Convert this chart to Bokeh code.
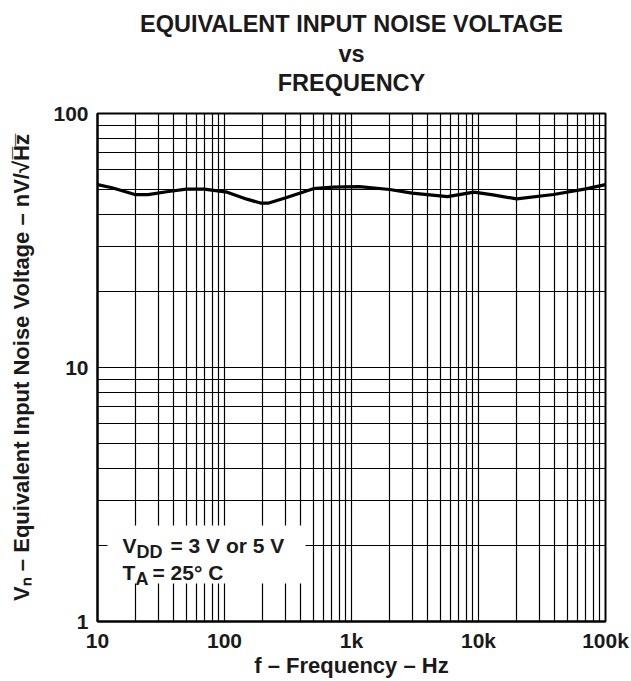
from bokeh.plotting import figure
from bokeh.models import FixedTicker, Label, BoxAnnotation, Range1d, Title
from bokeh.embed import file_html
from bokeh.resources import INLINE

# ---- data ----
freq_hz = [10, 13, 20, 25, 35, 50, 69, 105, 150, 192, 223, 300, 500, 720,
           1150, 2000, 3000, 5700, 9200, 13000, 20000, 39000, 70000, 100000]
noise_nv = [52.5, 51.0, 47.9, 47.9, 49.2, 50.4, 50.4, 49.0, 46.0, 44.4, 44.4,
            46.5, 50.6, 51.3, 51.5, 50.2, 48.6, 47.1, 49.0, 47.8, 46.1, 48.0,
            50.5, 52.5]

x_major = [10, 100, 1000, 10000, 100000]
x_labels = ["10", "100", "1k", "10k", "100k"]
y_major = [1, 10, 100]
y_labels = ["1", "10", "100"]

title_lines = ["EQUIVALENT INPUT NOISE VOLTAGE", "vs", "FREQUENCY"]
x_title = "f \u2013 Frequency \u2013 Hz"
y_title = "V\u2099 \u2013 Equivalent Input Noise Voltage \u2013 nV/\u221aH\u0305z\u0305"

FONT = "Liberation Sans"
INK = "#1a1a1a"

x_minor = [m * d for d in x_major[:-1] for m in range(2, 10)]
y_minor = [m * d for d in y_major[:-1] for m in range(2, 10)]

p = figure(width=631, height=681, x_axis_type="log", y_axis_type="log",
           x_range=Range1d(10, 100000), y_range=Range1d(1, 100),
           output_backend="svg", toolbar_location=None,
           min_border_left=97, min_border_right=26,
           min_border_top=113, min_border_bottom=60)

p.background_fill_color = "white"
p.border_fill_color = "white"
p.outline_line_color = "black"
p.outline_line_width = 2

p.xaxis.ticker = FixedTicker(ticks=x_major, minor_ticks=x_minor)
p.yaxis.ticker = FixedTicker(ticks=y_major, minor_ticks=y_minor)
p.xaxis.major_label_overrides = {v: s for v, s in zip(x_major, x_labels)}
p.yaxis.major_label_overrides = {v: s for v, s in zip(y_major, y_labels)}

for ax in (p.xaxis, p.yaxis):
    ax.major_tick_in = 0
    ax.major_tick_out = 0
    ax.minor_tick_in = 0
    ax.minor_tick_out = 0
    ax.axis_line_color = "black"
    ax.axis_line_width = 2
    ax.major_label_text_font = FONT
    ax.major_label_text_font_style = "bold"
    ax.major_label_text_font_size = "21px"
    ax.major_label_text_color = INK
    ax.major_label_text_line_height = 1.0
    ax.axis_label_text_font = FONT
    ax.axis_label_text_font_style = "bold"
    ax.axis_label_text_font_size = "22px"
    ax.axis_label_text_color = INK
    ax.axis_label_text_line_height = 1.0

p.xaxis.major_label_standoff = 7
p.yaxis.major_label_standoff = 9

p.xaxis.axis_label = x_title
p.xaxis.axis_label_standoff = -2
p.yaxis.axis_label = y_title
p.yaxis.axis_label_standoff = 16

for g in (p.xgrid, p.ygrid):
    g.grid_line_color = "black"
    g.grid_line_alpha = 1.0
    g.grid_line_width = 1.2
    g.minor_grid_line_color = "black"
    g.minor_grid_line_alpha = 1.0
    g.minor_grid_line_width = 1.2

p.line(freq_hz, noise_nv, line_color="black", line_width=3.2)

# white box that hides the grid behind the conditions text
box = BoxAnnotation(left=10 ** (1 + 10 / 127), right=10 ** (1 + 208 / 127),
                    bottom=10 ** (2 - 470 / 254), top=10 ** (2 - 412 / 254),
                    fill_color="white", fill_alpha=1.0, line_color=None)
p.add_layout(box)

def lab(text, x_off, y_off, size="21px"):
    p.add_layout(Label(x=10, y=1, x_offset=x_off, y_offset=y_off, text=text,
                       text_align="left", text_baseline="alphabetic",
                       text_font=FONT, text_font_style="bold",
                       text_font_size=size, text_color=INK))

lab("V", 25, 76)
lab("DD", 39, 70, "18px")
lab("= 3 V or 5 V", 73, 76)
lab("T", 25, 49)
lab("A", 38, 43, "18px")
lab("= 25\u00b0 C", 55, 49)

# three-line title above the frame
t = Title(text="\n".join(title_lines), align="center", standoff=0,
          text_font=FONT, text_font_style="bold",
          text_font_size="23.5px", text_color=INK,
          text_line_height=1.145)
props = t.properties()
if "text_align" in props:
    t.text_align = "center"
if "padding" in props:
    try:
        t.padding = (0, 0, 0, 17)
    except Exception:
        t.standoff = 0
p.add_layout(t, "above")

open("out.html", "w").write(file_html(p, INLINE))
